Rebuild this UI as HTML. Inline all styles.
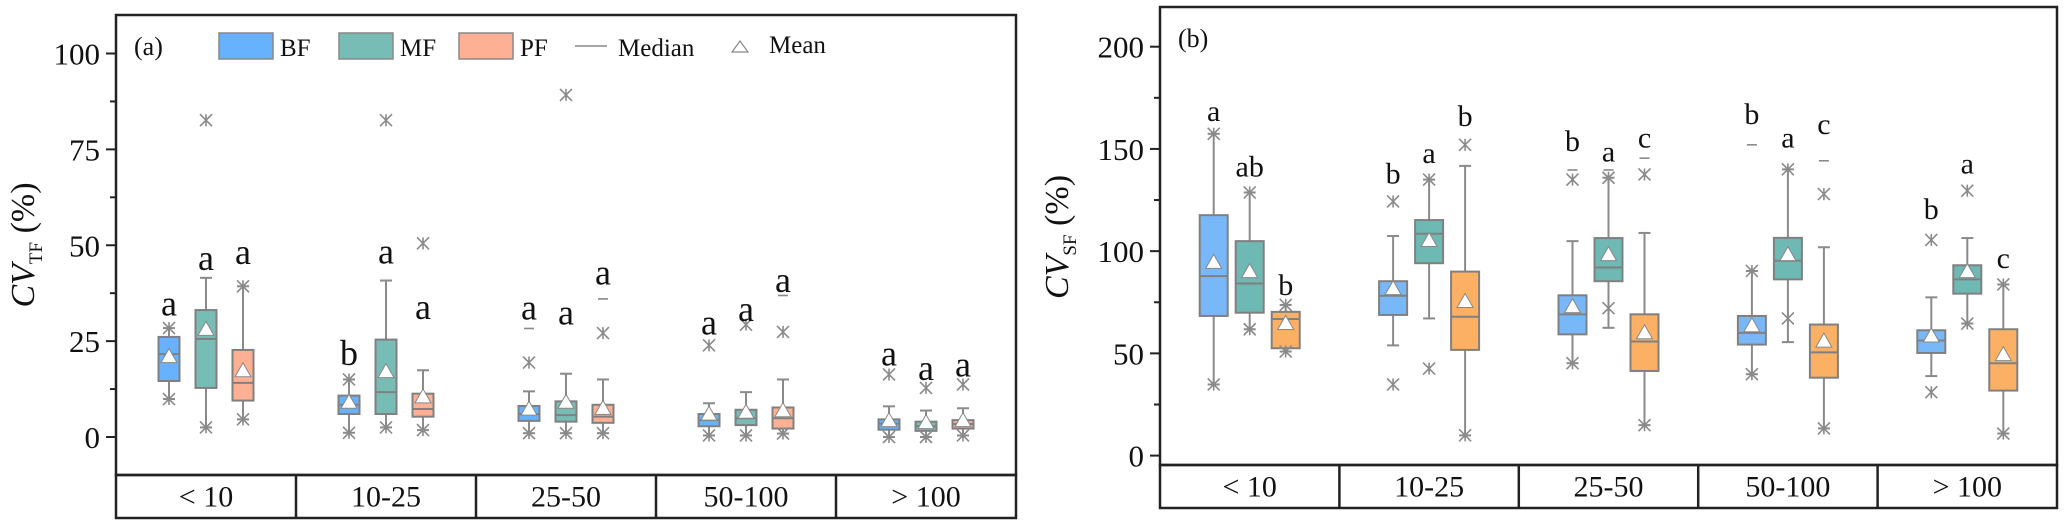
<!DOCTYPE html>
<html><head><meta charset="utf-8">
<style>
html,body{margin:0;padding:0;background:#fff;}
svg{display:block;font-family:"Liberation Serif",serif;}
</style></head>
<body>
<svg id="chart" width="2067" height="531" viewBox="0 0 2067 531" xmlns="http://www.w3.org/2000/svg"></svg>
<script>
// ---------- data ----------
const categories = ["< 10","10-25","25-50","50-100","> 100"];
const seriesNames = ["BF","MF","PF"];
// Panel (a) CV_TF: per category, per series [q1, median, q3, mean, whiskerLow, whiskerHigh]
const aBF = [[14.6,21.6,26.1,20.7,9.9,28.4],[6.0,8.4,10.8,8.8,1.1,15],[4.2,6,8.1,7,1,11.9],[2.8,4.4,6.0,5.7,0.4,8.8],[1.9,3.5,4.6,4,0,8]];
const aMF = [[12.8,25.6,33.1,27.8,2.5,41.5],[6.0,11.7,25.4,16.8,2.5,40.8],[4.0,5.7,9.3,8.8,1,16.5],[3.1,4.9,7.1,6.2,0.4,11.7],[1.6,2.8,4.0,3.5,0,6.9]];
const aPF = [[9.5,14.1,22.7,17,4.6,39.3],[5.3,7.3,11.3,10.2,1.8,17.4],[3.7,5.3,8.4,7.2,1,15],[2.2,4.9,7.7,6.6,0.9,15],[2.2,3.4,4.4,4,0.4,7.5]];
const aOutBF = [[28.4,9.9],[15,1.1],[19.4,1],[23.9,0.4],[16.3,0]];
const aOutMF = [[82.6,2.5],[82.6,2.5],[89.2,1],[29.3,0.4],[12.8,0]];
const aOutPF = [[39.3,4.6],[50.5,1.8],[27.1,1],[27.4,0.9],[13.7,0.4]];
const aDashBF = [[],[],[28.3],[],[]];
const aDashMF = [[],[],[],[],[]];
const aDashPF = [[],[],[36],[36.9],[]];
const aLetters = [["a","a","a"],["b","a","a"],["a","a","a"],["a","a","a"],["a","a","a"]];
const aLetterY = [[34.5,46.4,47.9],[21.6,48,33.6],[33.4,32.2,42.6],[29.6,33.1,40.6],[21.4,17.7,18.6]];
const aTicks = [0,25,50,75,100];
// Panel (b) CV_SF
const bBF = [[68.3,87.8,117.6,94,34.8,157.4],[68.8,78.2,85.3,81.2,53.9,107.4],[59.3,69.1,78.4,72.4,45.2,104.9],[54.3,60,68.3,63,39.8,90.3],[50.2,56.3,61.3,58,38.9,77.4]];
const bMF = [[69.9,84.2,104.9,89.5,61.8,128.7],[94.1,108.5,115.2,104.7,67.1,135],[85.3,92,106.4,97.8,62.5,135.9],[86.2,95.3,106.5,97.8,55.5,140],[79.2,86.2,93.1,89.5,64.6,106.4]];
const bPF = [[52.5,66.8,70.3,64.1,50.9,73.7],[51.7,67.9,90,74.9,9.9,141.7],[41.4,55.8,69.1,59.6,14.9,108.9],[38.1,50.5,64.1,55.5,13.3,101.9],[31.8,45.2,61.8,48.9,10.8,83.7]];
const bOutBF = [[157.4,34.8],[124.3,34.8],[135,45.2],[90.3,39.8],[105.5,31]];
const bOutMF = [[128.7,61.8],[135,42.6],[135.9,72.1],[140,67.1],[129.6,64.6]];
const bOutPF = [[73.7,50.9],[152,9.9],[137.5,14.9],[127.9,13.3],[83.7,10.8]];
const bDashBF = [[],[],[139.7],[152],[]];
const bDashMF = [[],[],[139.7],[],[]];
const bDashPF = [[],[],[145.5],[144.2],[]];
const bLetters = [["a","ab","b"],["b","a","b"],["b","a","c"],["b","a","c"],["b","a","c"]];
const bLetterY = [[168,140.8,82.9],[137.5,147.5,165.7],[153.3,148.3,155],[166.5,155,161.6],[120.1,142.5,96.1]];
const bTicks = [0,50,100,150,200];

const NS="http://www.w3.org/2000/svg";
const svg=document.getElementById('chart');
function mk(tag,attrs,parent,text){const e=document.createElementNS(NS,tag);for(const k in attrs)e.setAttribute(k,attrs[k]);if(text!==undefined)e.textContent=text;(parent||svg).appendChild(e);return e;}

function panel(cfg){
  const g=mk('g',{});
  
  
  const y=v=>cfg.y0-(v-0)*(cfg.y0-cfg.yTop)/cfg.tickMax;
  const gw=(cfg.right-cfg.left)/categories.length;
  const cx=(i,s)=>cfg.left+gw*(i+0.5)+(s-1)*cfg.off;
  const fr=mk('rect',{x:cfg.left,y:cfg.top,width:cfg.right-cfg.left,height:cfg.bottom-cfg.top,fill:'none',stroke:'#222','stroke-width':2.5},g);
  
  const st=mk('rect',{x:cfg.left,y:cfg.bottom,width:cfg.right-cfg.left,height:cfg.strip-cfg.bottom,fill:'none',stroke:'#222','stroke-width':2.5},g);
  
  categories.forEach((c,i)=>{
    if(i>0){mk('line',{x1:cfg.left+gw*i,x2:cfg.left+gw*i,y1:cfg.bottom,y2:cfg.strip,stroke:'#222','stroke-width':2.5},g);}
    const t=mk('text',{x:cfg.left+gw*(i+0.5),y:(cfg.bottom+cfg.strip)/2+10,'text-anchor':'middle','font-size':30,fill:'#111'},g,c);
    
  });
  const step=cfg.tickMax/4;
  for(let v=0; v<=cfg.tickMax+0.01; v+=step/2){
    const major=Math.abs(v/step-Math.round(v/step))<0.01;
    mk('line',{x1:cfg.left-(major?10:6),x2:cfg.left,y1:y(v),y2:y(v),stroke:'#222','stroke-width':2},g);
  }
  cfg.ticks.forEach(v=>{
    const t=mk('text',{x:cfg.left-16,y:y(v)+11,'text-anchor':'end','font-size':31,fill:'#111'},g,String(v));
    
  });
  const yt=mk('text',{transform:`translate(${cfg.ylx},${cfg.yly}) rotate(-90)`,'text-anchor':'middle','font-size':34,fill:'#111'},g);
  
  mk('tspan',{'font-style':'italic'},yt,'CV');
  mk('tspan',{'font-size':19,dy:8},yt,cfg.sub);
  mk('tspan',{dy:-8},yt,' (%)');
  const pl=mk('text',{x:cfg.left+18,y:cfg.top+40,'font-size':26,fill:'#111'},g,cfg.plabel);
  
  const sets=[cfg.BF,cfg.MF,cfg.PF], outs=[cfg.oBF,cfg.oMF,cfg.oPF], dashes=[cfg.dBF,cfg.dMF,cfg.dPF];
  categories.forEach((c,i)=>{
    sets.forEach((arr,s)=>{
      const d=arr[i];const x=cx(i,s);const w=cfg.bw;
      const bg=mk('g',{},g);
      
      
      mk('line',{x1:x,x2:x,y1:y(d[5]),y2:y(d[4]),stroke:'#8a8a8a','stroke-width':2},bg);
      mk('line',{x1:x-6,x2:x+6,y1:y(d[5]),y2:y(d[5]),stroke:'#8a8a8a','stroke-width':2},bg);
      mk('line',{x1:x-6,x2:x+6,y1:y(d[4]),y2:y(d[4]),stroke:'#8a8a8a','stroke-width':2},bg);
      mk('rect',{x:x-w/2,y:y(d[2]),width:w,height:y(d[0])-y(d[2]),fill:cfg.colors[s],stroke:'#808080','stroke-width':2},bg);
      mk('line',{x1:x-w/2,x2:x+w/2,y1:y(d[1]),y2:y(d[1]),stroke:'#808080','stroke-width':2},bg);
      const my=y(d[3]);
      mk('polygon',{points:`${x},${my-9} ${x-8},${my+5} ${x+8},${my+5}`,fill:'#fff',stroke:'#888','stroke-width':1},bg);
      outs[s][i].forEach(v=>{
        const oy=y(v),r=6;
        const o=mk('path',{d:`M${x-r},${oy-r}L${x+r},${oy+r}M${x-r},${oy+r}L${x+r},${oy-r}M${x},${oy-r}L${x},${oy+r}`,stroke:'#8a8a8a','stroke-width':1.6,fill:'none'},bg);
        
      });
      dashes[s][i].forEach(v=>{mk('line',{x1:x-5,x2:x+5,y1:y(v),y2:y(v),stroke:'#8a8a8a','stroke-width':1.6},bg);});
      const lt=mk('text',{x:x,y:y(cfg.ly[i][s])+cfg.lfs*0.3,'text-anchor':'middle','font-size':cfg.lfs,fill:'#111'},bg,cfg.letters[i][s]);
      
    });
  });
  return g;
}

panel({name:'panel-a',left:116,right:1016,top:15,bottom:475,strip:518,y0:437,yTop:53.5,tickMax:100,ticks:aTicks,
  ylx:34,yly:245,sub:'TF',plabel:'(a)',off:37,bw:21,colors:['#66b2ff','#78bcb6','#fdb094'],
  BF:aBF,MF:aMF,PF:aPF,oBF:aOutBF,oMF:aOutMF,oPF:aOutPF,dBF:aDashBF,dMF:aDashMF,dPF:aDashPF,letters:aLetters,ly:aLetterY,lfs:36});
panel({name:'panel-b',left:1160,right:2057,top:7,bottom:465,strip:508,y0:455.6,yTop:46.7,tickMax:200,ticks:bTicks,
  ylx:1068,yly:237,sub:'SF',plabel:'(b)',off:36,bw:28,colors:['#78b8f8','#6fb9b4','#fcb064'],
  BF:bBF,MF:bMF,PF:bPF,oBF:bOutBF,oMF:bOutMF,oPF:bOutPF,dBF:bDashBF,dMF:bDashMF,dPF:bDashPF,letters:bLetters,ly:bLetterY,lfs:30});

const lg=mk('g',{});


const legCols=['#66b2ff','#78bcb6','#fdb094'];
const legX=[219,339,459];
seriesNames.forEach((n,i)=>{
  const e=mk('g',{},lg);
  
  
  mk('rect',{x:legX[i],y:33,width:54,height:26,fill:legCols[i],stroke:'#888','stroke-width':1.5},e);
  mk('text',{x:legX[i]+61,y:56,'font-size':25,fill:'#111'},e,n);
});
const em=mk('g',{},lg);


mk('line',{x1:575,x2:607,y1:46,y2:46,stroke:'#888','stroke-width':1.5},em);
mk('text',{x:618,y:56,'font-size':25,fill:'#111'},em,'Median');
const en=mk('g',{},lg);


mk('polygon',{points:'740,41 732,52 748,52',fill:'#fff',stroke:'#888','stroke-width':1.2},en);
mk('text',{x:769,y:53,'font-size':25,fill:'#111'},en,'Mean');
</script>
</body></html>
